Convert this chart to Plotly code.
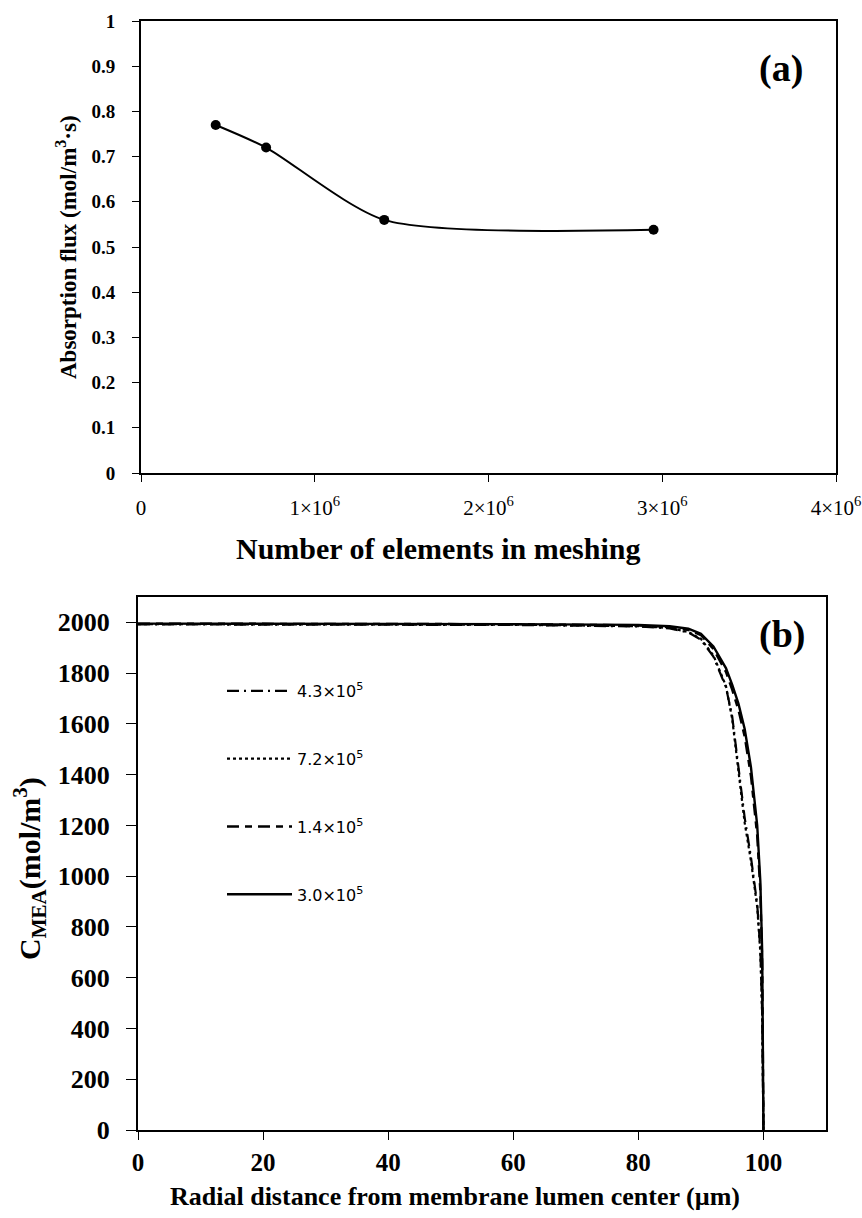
import plotly.graph_objects as go

# ---------- Panel (a) data ----------
elements = [4.3e5, 7.2e5, 1.4e6, 2.95e6]
flux = [0.77, 0.72, 0.56, 0.538]
a_xticks = [0, 1e6, 2e6, 3e6, 4e6]
a_xticktext = ["0", "1×10<sup>6</sup>", "2×10<sup>6</sup>", "3×10<sup>6</sup>", "4×10<sup>6</sup>"]
a_yticks = [0, 0.1, 0.2, 0.3, 0.4, 0.5, 0.6, 0.7, 0.8, 0.9, 1]
a_yticktext = ["0", "0.1", "0.2", "0.3", "0.4", "0.5", "0.6", "0.7", "0.8", "0.9", "1"]

# ---------- Panel (b) data ----------
radial = [0, 20, 40, 60, 80, 85, 88, 90, 92, 94, 95, 96, 97, 98, 99, 99.5, 99.8, 100]
c_43e5 = [1992, 1992, 1991, 1990, 1984, 1976, 1960, 1932, 1865, 1745, 1630, 1440, 1230, 1075, 890, 710, 460, 0]
c_72e5 = [1993, 1993, 1992, 1991, 1985, 1978, 1962, 1935, 1870, 1750, 1620, 1420, 1210, 1060, 880, 700, 450, 0]
c_14e5 = [1995, 1995, 1994, 1993, 1988, 1982, 1970, 1950, 1895, 1805, 1735, 1655, 1550, 1395, 1160, 940, 660, 0]
c_30e5 = [1995, 1995, 1994, 1993, 1990, 1985, 1975, 1955, 1905, 1820, 1755, 1680, 1580, 1430, 1200, 980, 700, 0]
b_names = ["4.3×10<sup>5</sup>", "7.2×10<sup>5</sup>", "1.4×10<sup>5</sup>", "3.0×10<sup>5</sup>"]
b_xticks = [0, 20, 40, 60, 80, 100]
b_yticks = [0, 200, 400, 600, 800, 1000, 1200, 1400, 1600, 1800, 2000]

SERIF = "Liberation Serif"
W, H = 862, 1218

def px_x(p):
    return p / W

def px_y(p):
    return 1 - p / H

fig = go.Figure()

fig.add_trace(go.Scatter(
    x=elements, y=flux, mode="lines+markers",
    line=dict(color="black", width=2, shape="spline", smoothing=0.7),
    marker=dict(color="black", size=10),
    xaxis="x", yaxis="y", showlegend=False,
))

b_series = [c_43e5, c_72e5, c_14e5, c_30e5]
b_dash = ["12px,5px,2px,5px", "dot", "12px,6px,7px,6px", "solid"]
b_width = [2.2, 2.2, 2.4, 2.4]
for i, (ys, nm) in enumerate(zip(b_series, b_names)):
    fig.add_trace(go.Scatter(
        x=radial, y=ys, mode="lines", name=nm,
        line=dict(color="black", width=b_width[i], dash=b_dash[i]),
        xaxis="x2", yaxis="y2", legendgroup=f"g{i}",
    ))

axis_common = dict(
    showline=True, linecolor="black", linewidth=2, mirror=True,
    ticks="outside", tickcolor="black", tickwidth=1,
    showgrid=False, zeroline=False, automargin=False,
    ticklabeloverflow="allow",
)


def label(text, x, y, size, angle=0):
    return dict(text=text, x=px_x(x), y=px_y(y), xref="paper", yref="paper",
                xanchor="center", yanchor="middle", showarrow=False, textangle=angle,
                font=dict(family=SERIF, size=size, color="black"))


fig.update_layout(
    width=W, height=H,
    margin=dict(l=0, r=0, t=0, b=0, autoexpand=False),
    paper_bgcolor="white", plot_bgcolor="white",
    font=dict(family=SERIF, size=18, color="black"),
    xaxis=dict(
        domain=[px_x(141), px_x(836)], range=[0, 4e6],
        tickvals=a_xticks, ticktext=a_xticktext,
        tickfont=dict(family=SERIF, size=21, color="black"),
        ticklen=7, ticklabelstandoff=8,
        anchor="y", **axis_common,
    ),
    yaxis=dict(
        domain=[px_y(473), px_y(21)], range=[0, 1],
        tickvals=a_yticks, ticktext=["<b>%s</b>" % t for t in a_yticktext],
        tickfont=dict(family=SERIF, size=19, color="black"),
        ticklen=7, ticklabelstandoff=13,
        anchor="x", **axis_common,
    ),
    xaxis2=dict(
        domain=[px_x(138), px_x(826)], range=[0, 110],
        tickvals=b_xticks, ticktext=["<b>%d</b>" % t for t in b_xticks],
        tickfont=dict(family=SERIF, size=25, color="black"),
        ticklen=8, ticklabelstandoff=1,
        anchor="y2", **axis_common,
    ),
    yaxis2=dict(
        domain=[px_y(1130), px_y(597)], range=[0, 2100],
        tickvals=b_yticks, ticktext=["<b>%d</b>" % t for t in b_yticks],
        tickfont=dict(family=SERIF, size=26, color="black"),
        ticklen=10, ticklabelstandoff=11,
        anchor="x2", **axis_common,
    ),
    legend=dict(
        x=px_x(222), y=px_y(674), xanchor="left", yanchor="top",
        bgcolor="rgba(0,0,0,0)", borderwidth=0,
        font=dict(family="DejaVu Sans", size=16, color="black"),
        tracegroupgap=44, itemwidth=65,
    ),
    annotations=[
        label("<b>(a)</b>", 781, 69, 38),
        label("<b>(b)</b>", 782, 634, 38),
        label("<b>Number of elements in meshing</b>", 438, 548, 30),
        label("<b>Absorption flux (mol/m<sup>3</sup>·s)</b>", 66, 247, 23, -90),
        label("<b>Radial distance from membrane lumen center (µm)</b>", 455, 1196, 26),
        label("<b>C<sub>MEA</sub>(mol/m<sup>3</sup>)</b>", 29, 869, 30, -90),
    ],
)

fig.write_html("out.html")
